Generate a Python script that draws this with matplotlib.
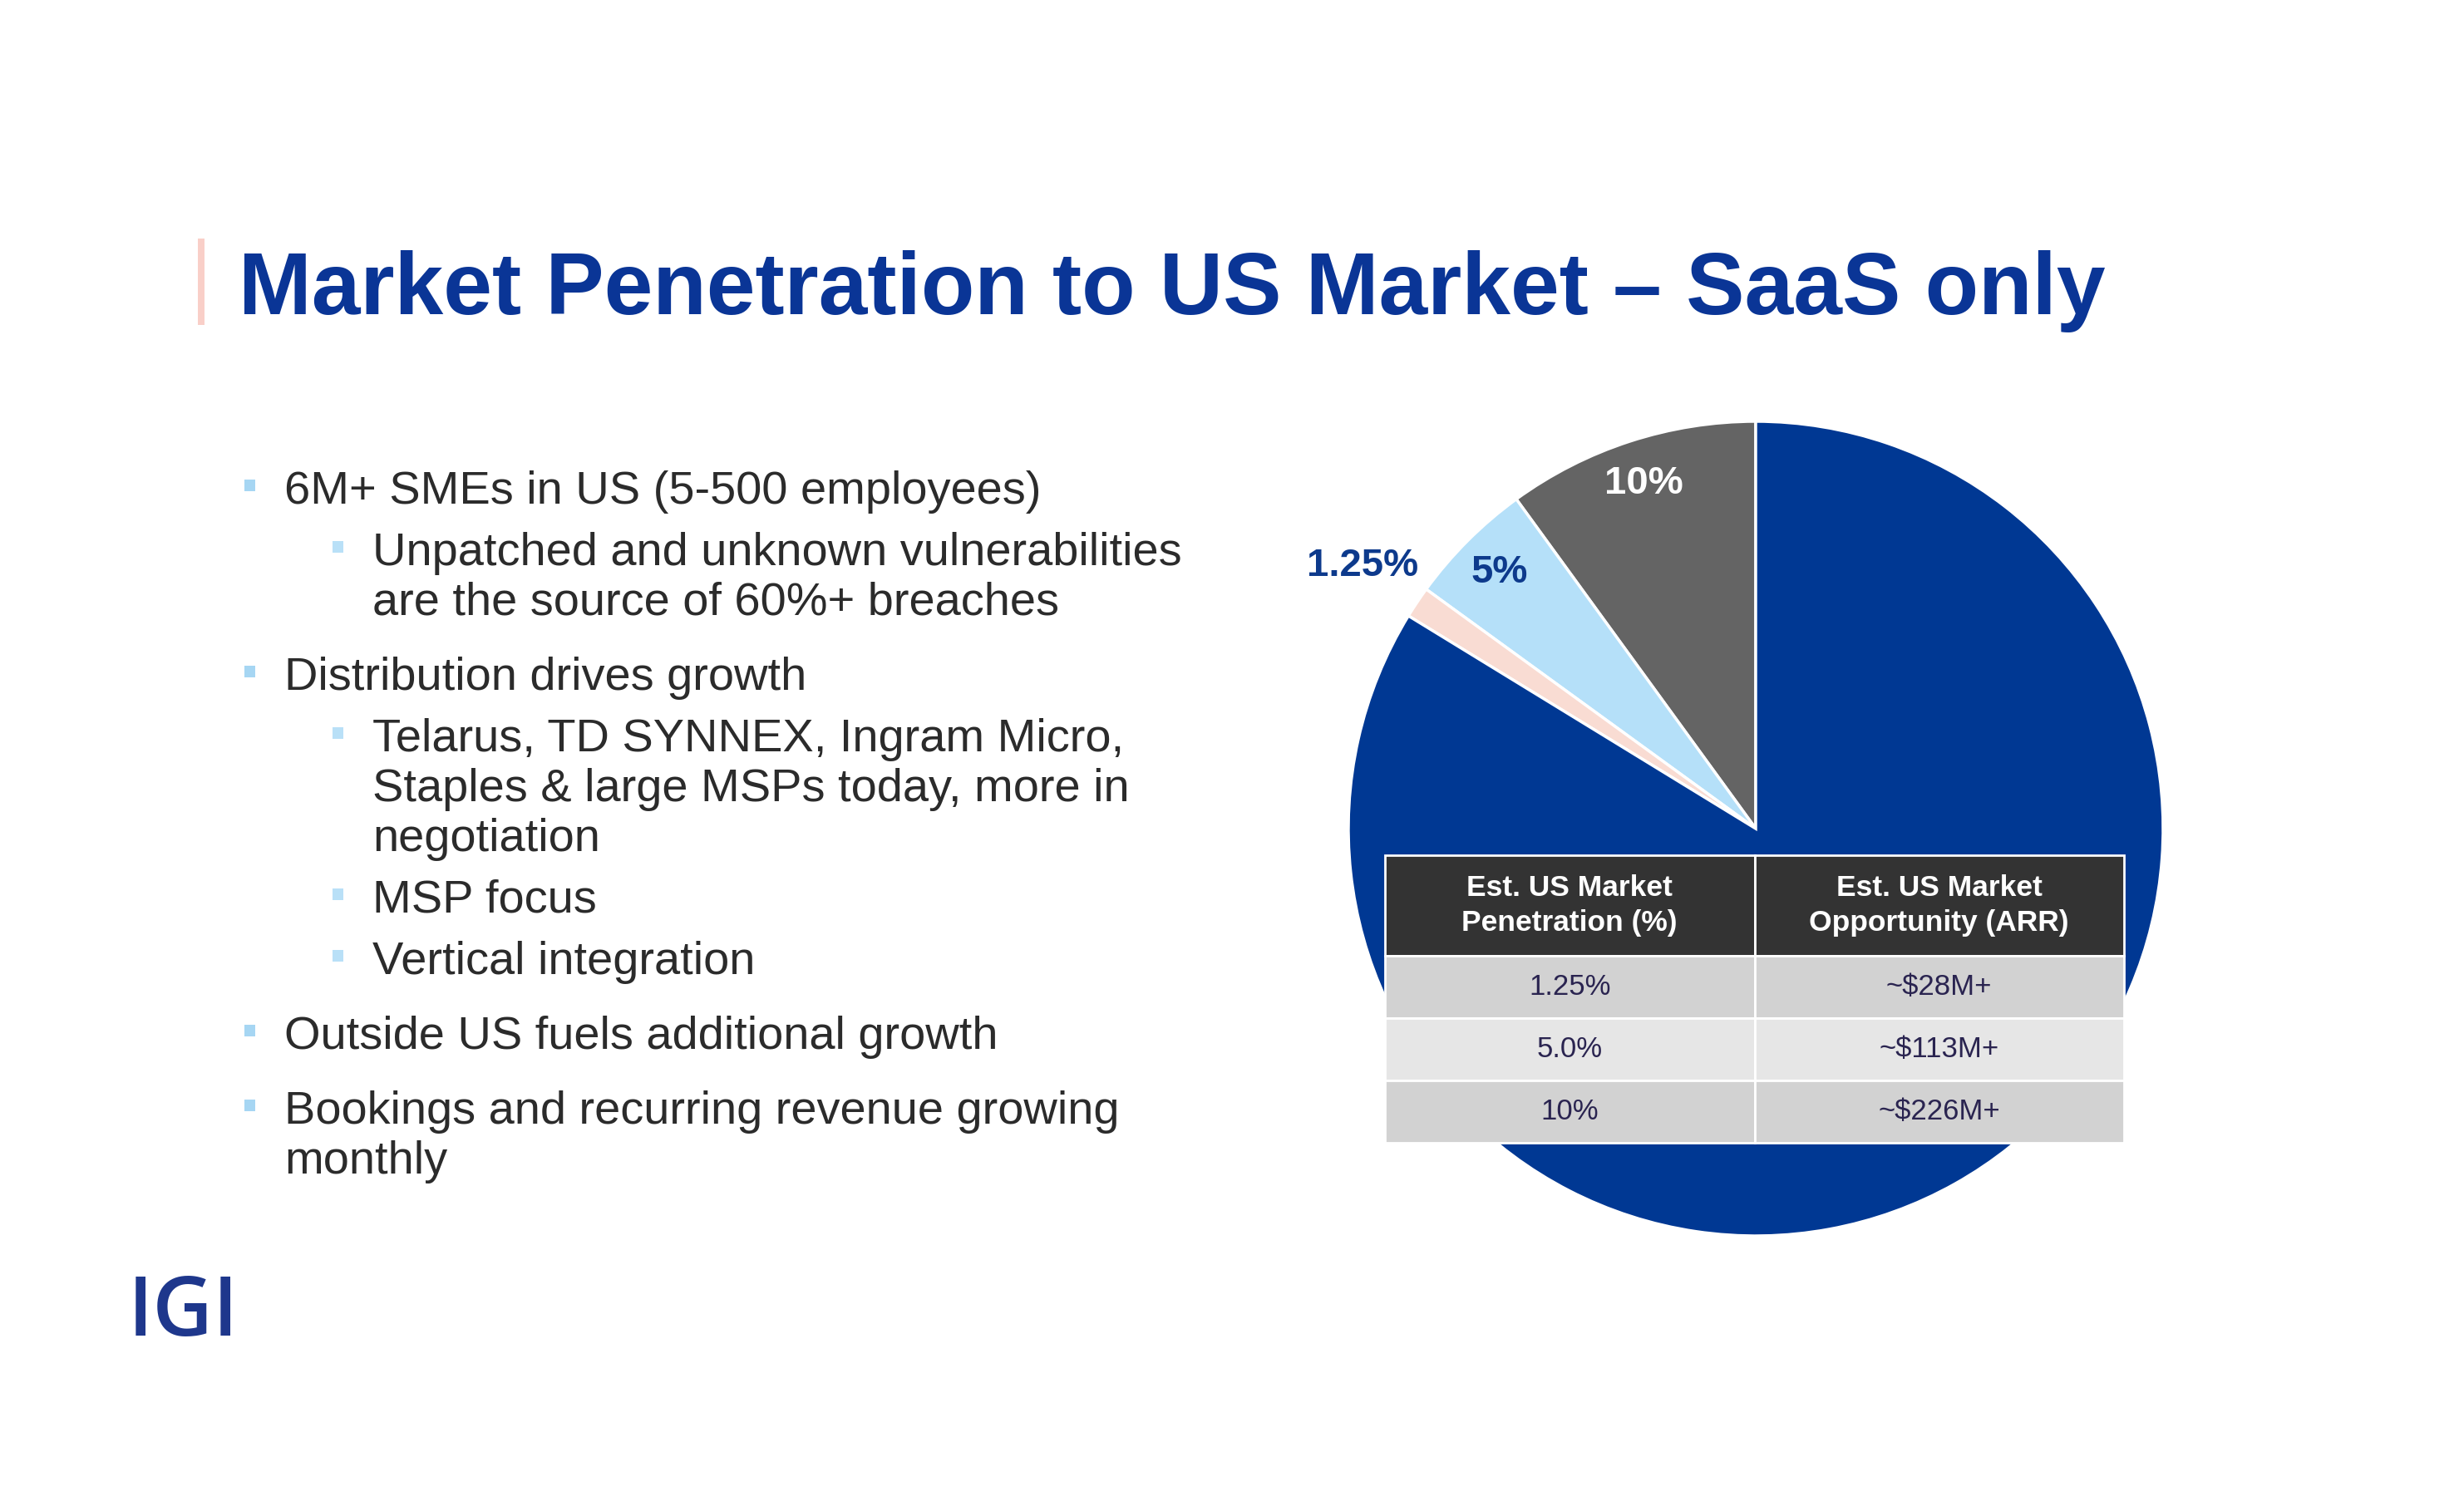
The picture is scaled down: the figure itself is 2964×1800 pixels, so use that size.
import matplotlib
matplotlib.use("Agg")
import matplotlib.pyplot as plt
import numpy as np
from matplotlib.patches import Rectangle

# Canvas in pixels (slide-like layout)
W, H = 2964, 1800
DPI = 100

title = "Market Penetration to US Market \u2013 SaaS only"

# Bullet list: level 0 = main bullet, level 1 = sub bullet
bullet_levels = [0, 1, 0, 1, 1, 1, 0, 0]
bullet_texts = [
    ["6M+ SMEs in US (5-500 employees)"],
    ["Unpatched and unknown vulnerabilities", "are the source of 60%+ breaches"],
    ["Distribution drives growth"],
    ["Telarus, TD SYNNEX, Ingram Micro,", "Staples & large MSPs today, more in", "negotiation"],
    ["MSP focus"],
    ["Vertical integration"],
    ["Outside US fuels additional growth"],
    ["Bookings and recurring revenue growing", "monthly"],
]

# Pie chart (share of market, counter clockwise from 12 o'clock)
pie_values = [10, 5, 1.25, 83.75]
pie_labels = ["10%", "5%", "1.25%", ""]
pie_colors = ["#646464", "#b5e0f9", "#f9dcd3", "#003893"]
label_colors = ["white", "#0d3a8c", "#0d3a8c", "white"]
label_dist = [0.89, 0.89, 1.16, 0.5]

# Table
table_header = ["Est. US Market\nPenetration (%)", "Est. US Market\nOpportunity (ARR)"]
penetration = ["1.25%", "5.0%", "10%"]
opportunity = ["~$28M+", "~$113M+", "~$226M+"]

TITLE_BLUE = "#0a3596"
TEXT = "#2b2b2b"

fig = plt.figure(figsize=(W / DPI, H / DPI), dpi=DPI)
fig.patch.set_facecolor("white")

# background axes in pixel coordinates (y goes down)
bg = fig.add_axes([0, 0, 1, 1])
bg.set_xlim(0, W)
bg.set_ylim(H, 0)
bg.axis("off")

# title with small accent bar
bg.add_patch(Rectangle((238, 287), 8, 104, color="#f9cfc8", lw=0))
bg.text(287, 378, title, fontsize=76, fontweight="bold", color=TITLE_BLUE,
        family="Liberation Sans", va="baseline", ha="left")

# bullets
y = 606
line_h = 60
gap_before = {0: 30, 1: 14}
text_x = {0: 342, 1: 448}
square_x = {0: 294, 1: 400}
square_col = {0: "#a6d6f3", 1: "#b9e0f7"}
for i, (lvl, lines) in enumerate(zip(bullet_levels, bullet_texts)):
    if i > 0:
        y += line_h + gap_before[lvl]
    bg.add_patch(Rectangle((square_x[lvl], y - 29), 13, 14, color=square_col[lvl], lw=0))
    for j, line in enumerate(lines):
        if j > 0:
            y += line_h
        bg.text(text_x[lvl], y, line, fontsize=40.3, color=TEXT,
                family="Liberation Sans", va="baseline", ha="left")

# IGI logo text
bg.text(154, 1607, "IGI", fontsize=72, color="#1e378c", family="Open Sans",
        fontweight="semibold", va="baseline", ha="left")

# pie
cx, cy, r = 2112, 997, 490
ax_pie = fig.add_axes([(cx - r) / W, 1 - (cy + r) / H, 2 * r / W, 2 * r / H])
wedges, _ = ax_pie.pie(pie_values, colors=pie_colors, startangle=90, counterclock=True,
                       radius=1, wedgeprops=dict(edgecolor="white", linewidth=2.5))
for w, lab, col, d in zip(wedges, pie_labels, label_colors, label_dist):
    if not lab:
        continue
    ang = np.deg2rad((w.theta1 + w.theta2) / 2)
    ax_pie.text(d * np.cos(ang), d * np.sin(ang), lab, ha="center", va="center",
                fontsize=34, fontweight="bold", color=col, family="Liberation Sans")
ax_pie.set_xlim(-1.0, 1.0)
ax_pie.set_ylim(-1.0, 1.0)
ax_pie.set_aspect("equal")
ax_pie.axis("off")

# table on top of the pie
tx0, tx1, ty0, ty1 = 1666, 2555, 1029, 1375
ax_tab = fig.add_axes([tx0 / W, 1 - ty1 / H, (tx1 - tx0) / W, (ty1 - ty0) / H])
ax_tab.axis("off")
cell_text = [[p, o] for p, o in zip(penetration, opportunity)]
tab = ax_tab.table(cellText=cell_text, colLabels=table_header, cellLoc="center",
                   colLoc="center", bbox=[0, 0, 1, 1])
tab.auto_set_font_size(False)
row_fill = ["#d2d2d2", "#e6e6e6", "#d2d2d2"]
for (row, col), cell in tab.get_celld().items():
    cell.set_edgecolor("white")
    cell.set_linewidth(2)
    txt = cell.get_text()
    txt.set_family("Liberation Sans")
    if row == 0:
        cell.set_height(121)
        cell.set_facecolor("#333333")
        txt.set_color("white")
        txt.set_fontweight("bold")
        txt.set_fontsize(25.5)
        txt.set_linespacing(1.35)
    else:
        cell.set_height(75)
        cell.set_facecolor(row_fill[row - 1])
        txt.set_color("#2a2450")
        txt.set_fontsize(25)

fig.savefig("out.png", dpi=DPI, facecolor="white")
